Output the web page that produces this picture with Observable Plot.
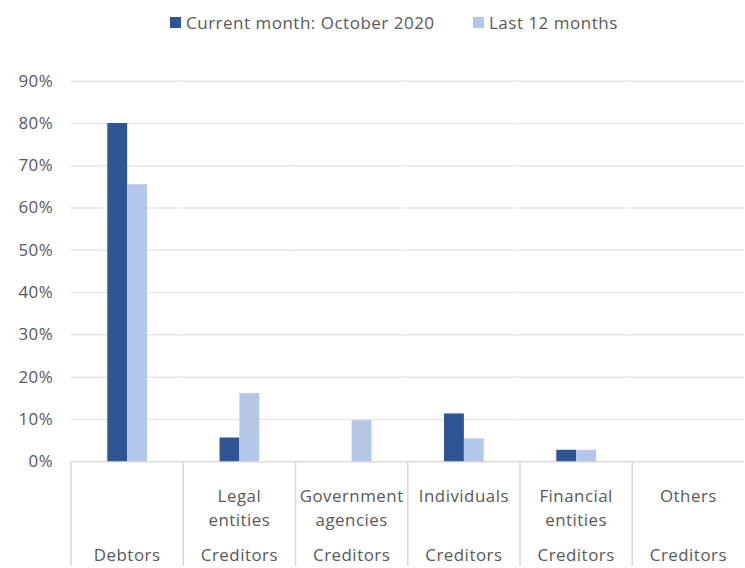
<!DOCTYPE html>
<html>
<head>
<meta charset="utf-8">
<script src="https://cdn.jsdelivr.net/npm/d3@7"></script>
<script src="https://cdn.jsdelivr.net/npm/@observablehq/plot@0.6"></script>
<style>
  html, body { margin: 0; padding: 0; background: #fff; }
  body { width: 745px; height: 568px; overflow: hidden; font-family: "Open Sans", sans-serif; color: #595959; }
  #legend { position: relative; height: 42px; font-size: 17px; letter-spacing: 0.5px; }
  .item { position: absolute; top: 10px; height: 24px; display: flex; align-items: center; white-space: nowrap; }
  .sw { width: 11px; height: 11px; margin-right: 5px; }
  #chart { width: 745px; height: 526px; overflow: hidden; }
  #chart svg { display: block; }
  #chart text { letter-spacing: 0.5px; }
</style>
</head>
<body>
<div id="legend"></div>
<div id="chart"></div>
<script>
const categories = ["Debtors", "Legal entities", "Government agencies", "Individuals", "Financial entities", "Others"];
const subLabels = ["", "Legal\nentities", "Government\nagencies", "Individuals", "Financial\nentities", "Others"];
const groupLabels = ["Debtors", "Creditors", "Creditors", "Creditors", "Creditors", "Creditors"];
const series = ["Current month: October 2020", "Last 12 months"];
const currentMonth = [0.80, 0.056, 0.0, 0.113, 0.027, 0.0];
const last12Months = [0.655, 0.161, 0.097, 0.054, 0.027, 0.0];
const colors = ["#2f5597", "#b4c7e7"];
const yTicks = [0, 0.1, 0.2, 0.3, 0.4, 0.5, 0.6, 0.7, 0.8, 0.9];

const rows = [];
categories.forEach((c, i) => {
  rows.push({category: c, series: series[0], value: currentMonth[i]});
  rows.push({category: c, series: series[1], value: last12Months[i]});
});
const labelRows = categories.map((c, i) => ({category: c, sub: subLabels[i], group: groupLabels[i]}));

// legend
const legend = document.getElementById("legend");
const lefts = [170, 473];
series.forEach((s, i) => {
  const it = document.createElement("div");
  it.className = "item";
  it.style.left = lefts[i] + "px";
  const sw = document.createElement("span");
  sw.className = "sw";
  sw.style.background = colors[i];
  const tx = document.createElement("span");
  tx.textContent = s;
  it.appendChild(sw); it.appendChild(tx);
  legend.appendChild(it);
});

const H = 526, mTop = 39, mBottom = 104;
const innerH = H - mTop - mBottom;

const chart = Plot.plot({
  width: 750,
  height: H,
  marginTop: mTop,
  marginBottom: mBottom,
  marginLeft: 70,
  marginRight: 0,
  style: {fontFamily: "Open Sans, sans-serif", fontSize: "17px", color: "#595959", background: "white", overflow: "visible"},
  fx: {domain: categories, padding: 0, axis: null},
  x: {domain: series, paddingInner: 0, paddingOuter: 1.75, axis: null},
  y: {domain: [0, 0.9], axis: null},
  color: {domain: series, range: colors},
  marks: [
    Plot.gridY({ticks: yTicks.slice(1), stroke: "#e8e8e8", strokeOpacity: 1, strokeWidth: 1.5}),
    Plot.ruleY([0], {stroke: "#d9d9d9", strokeWidth: 1.5}),
    Plot.frame({anchor: "left", stroke: "#d9d9d9", strokeWidth: 1.5, insetTop: innerH, insetBottom: -mBottom}),
    Plot.barY(rows, {fx: "category", x: "series", y: "value", fill: "series"}),
    Plot.text(labelRows, {fx: "category", text: "sub", frameAnchor: "bottom", dy: 22.5, lineAnchor: "top", lineHeight: 1.47, fill: "#595959", fontSize: 17}),
    Plot.text(labelRows, {fx: "category", text: "group", frameAnchor: "bottom", dy: 94.5, lineAnchor: "middle", fill: "#595959", fontSize: 17}),
    Plot.axisY({ticks: yTicks, tickFormat: d3.format(".0%"), tickSize: 0, tickPadding: 18, fontSize: 17, fill: "#595959", label: null})
  ]
});
document.getElementById("chart").appendChild(chart);
</script>
</body>
</html>
